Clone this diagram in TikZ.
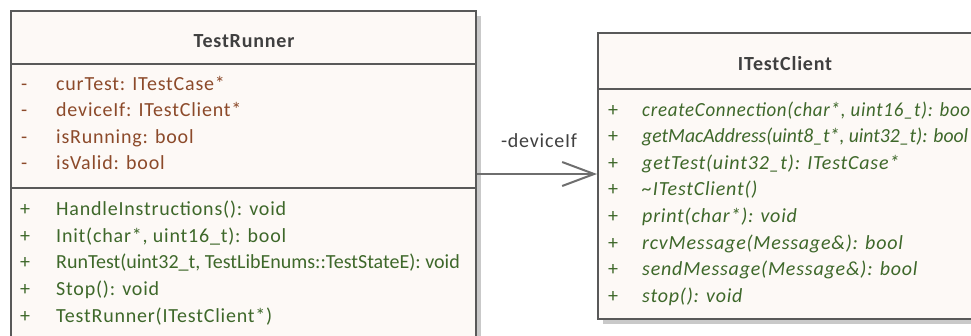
\documentclass[tikz,border=0pt]{standalone}
\usepackage{fontspec}
\setmainfont{Carlito}[LetterSpace=4]
\newfontfamily\tightfont{Carlito}
\usetikzlibrary{arrows.meta, positioning, shadows}
\definecolor{umlfill}{RGB}{253,249,246}
\definecolor{umlline}{RGB}{89,89,89}
\definecolor{umltitle}{RGB}{64,64,64}
\definecolor{umlattr}{RGB}{140,74,42}
\definecolor{umlop}{RGB}{62,104,42}
\definecolor{umlshadow}{RGB}{201,201,201}
\definecolor{umllink}{RGB}{110,110,110}

% squeeze a member line to a given width, keeping its height
\newcommand{\squeeze}[2]{\resizebox{#1}{\height}{#2}}

\tikzset{
  classbox/.style={draw=umlline, line width=2pt, fill=umlfill, anchor=north west,
    inner sep=0pt, drop shadow={shadow xshift=5pt, shadow yshift=-5pt, fill=umlshadow, opacity=1}},
  sepline/.style={draw=umlline, line width=2pt},
  classname/.style={anchor=base, inner sep=0pt, text=umltitle, font=\fontsize{20}{22}\selectfont\bfseries},
  member/.style={anchor=base west, inner sep=0pt, font=\fontsize{20}{22}\selectfont},
  attr/.style={member, text=umlattr},
  oper/.style={member, text=umlop},
  absoper/.style={member, text=umlop, font=\fontsize{20}{22}\selectfont\itshape},
  assoc/.style={draw=umllink, line width=2pt, -{Straight Barb[length=32pt, width=24pt, line width=2pt]}}
}

\begin{document}
\begin{tikzpicture}[x=1pt, y=-1pt]
\useasboundingbox (0,0) rectangle (971,335);
\clip (0,0) rectangle (971,335);

% TestRunner
\node[classbox, minimum width=465pt, minimum height=345pt] (runner) at (10,10) {};
\node[classname] (runnername) at (244,47) {TestRunner};
\draw[sepline] (runner.west |- 0,64) -- (runner.east |- 0,64);
\draw[sepline] (runner.west |- 0,188) -- (runner.east |- 0,188);
\foreach \txt [count=\i] in {{curTest: ITestCase*}, {deviceIf: ITestClient*}, {isRunning: bool}, {isValid: bool}} {
  \node[attr] (rvis\i) at (21,{90+26.6*(\i-1)}) {-};
  \node[attr] (rattr\i) at (56,{90+26.6*(\i-1)}) {\txt};
}
\foreach \txt [count=\i] in {{HandleInstructions(): void}, {Init(char*, uint16\_t): bool},
    {\tightfont RunTest(uint32\_t, TestLibEnums::TestStateE): void}, {Stop(): void}, {TestRunner(ITestClient*)}} {
  \node[oper] (rvisop\i) at (20,{215.7+26.6*(\i-1)}) {+};
  \node[oper] (rop\i) at (56,{215.7+26.6*(\i-1)}) {\txt};
}

% ITestClient
\node[classbox, minimum width=376pt, minimum height=286pt] (client) at (597,32) {};
\node[classname] (clientname) at (785,70) {ITestClient};
\draw[sepline] (client.west |- 0,89) -- (client.east |- 0,89);
\foreach \txt [count=\i] in {{\squeeze{333pt}{createConnection(char*, uint16\_t): bool}},
    {\squeeze{326pt}{\tightfont getMacAddress(uint8\_t*, uint32\_t): bool}},
    {getTest(uint32\_t): ITestCase*}, {\textasciitilde ITestClient()}, {print(char*): void},
    {rcvMessage(Message\&): bool}, {sendMessage(Message\&): bool}, {stop(): void}} {
  \node[oper] (cvisop\i) at (608,{116+26.6*(\i-1)}) {+};
  \node[absoper] (cop\i) at (642,{116+26.6*(\i-1)}) {\txt};
}

% association
\coordinate (linky) at (0,174);
\draw[assoc] (runner.east |- linky) -- (client.west |- linky)
  node[pos=0, anchor=base west, xshift=23pt, yshift=27pt, inner sep=0pt, text=umltitle,
    font=\fontsize{20}{22}\selectfont] (rolename) {-deviceIf};
\end{tikzpicture}
\end{document}
